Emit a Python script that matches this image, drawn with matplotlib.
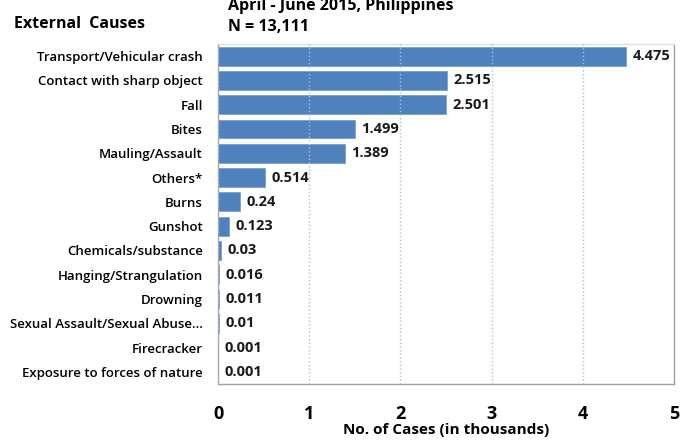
import numpy as np
import matplotlib as mpl
mpl.use('Agg')
import matplotlib.pyplot as plt

causes = ['Transport/Vehicular crash', 'Contact with sharp object', 'Fall', 'Bites',
          'Mauling/Assault', 'Others*', 'Burns', 'Gunshot', 'Chemicals/substance',
          'Hanging/Strangulation', 'Drowning', 'Sexual Assault/Sexual Abuse...',
          'Firecracker', 'Exposure to forces of nature']
cases = [4.475, 2.515, 2.501, 1.499, 1.389, 0.514, 0.24, 0.123, 0.03,
         0.016, 0.011, 0.01, 0.001, 0.001]
labels = ['4.475', '2.515', '2.501', '1.499', '1.389', '0.514', '0.24', '0.123',
          '0.03', '0.016', '0.011', '0.01', '0.001', '0.001']
xticks = [0, 1, 2, 3, 4, 5]

plt.rcParams['font.family'] = ['Open Sans', 'DejaVu Sans']

fig = plt.figure(figsize=(6.91, 4.45), dpi=100)
ax = fig.add_axes([218 / 691, 1 - 384 / 445, 456 / 691, 340 / 445])

y = np.arange(len(causes))
ax.barh(y, cases, height=0.78, color='#4f81bd', edgecolor='#7aa0d0', linewidth=0.6, zorder=1)
ax.set_ylim(len(causes) - 0.5, -0.5)
ax.set_xlim(0, 5)
ax.set_yticks(y)
ax.set_yticklabels(causes, fontsize=9.5, fontweight='semibold')
ax.tick_params(axis='y', length=0, pad=11)
ax.set_xticks(xticks)
ax.set_xticklabels([str(t) for t in xticks], fontsize=13, fontweight='bold')
ax.tick_params(axis='x', length=0, pad=15)
ax.set_xlabel('No. of Cases (in thousands)', fontsize=11, fontweight='bold', labelpad=0)

ax.grid(axis='x', color='#a8c0e0', linestyle=':', linewidth=1, zorder=2)
ax.set_axisbelow(False)
for s in ax.spines.values():
    s.set_color('#a0a0a0')
    s.set_linewidth(1)
ax.spines['top'].set_color('#e0e0e0')

for yi, v, lab in zip(y, cases, labels):
    ax.text(v + 0.07, yi, lab, va='center', ha='left', fontsize=10.5, fontweight='bold',
            color='#1a1a1a')

fig.text(14 / 691, 1 - 24 / 445, 'External  Causes', fontsize=11.5, fontweight='bold',
         va='center', ha='left')
fig.text(228 / 691, 1 - 27 / 445, 'N = 13,111', fontsize=11.5, fontweight='bold',
         va='center', ha='left')
fig.text(228 / 691, 1 - 6 / 445, 'April - June 2015, Philippines', fontsize=11.5,
         fontweight='bold', va='center', ha='left')

fig.savefig('out.png', dpi=100)
